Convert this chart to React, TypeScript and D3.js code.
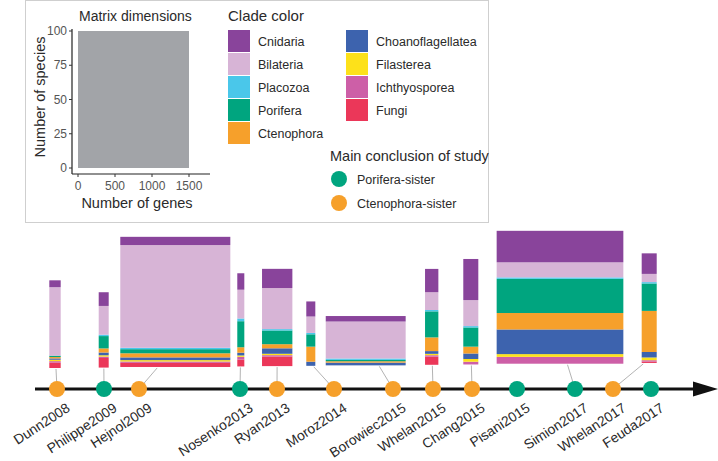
import * as d3 from "d3";

// clades, legend order (top of stack first)
const clades = ["Cnidaria", "Bilateria", "Placozoa", "Porifera", "Ctenophora", "Choanoflagellatea", "Filasterea", "Ichthyosporea", "Fungi"];
const cladeColors = ["#89449b", "#d7b4d6", "#4ac7ea", "#00a57f", "#f6a02b", "#3d63ae", "#fde11a", "#cd5fa7", "#eb3759"];

// every study on the timeline
const studies = ["Dunn2008", "Philippe2009", "Hejnol2009", "Nosenko2013", "Ryan2013", "Moroz2014", "Borowiec2015", "Whelan2015", "Chang2015", "Pisani2015", "Simion2017", "Whelan2017", "Feuda2017"];
const conclusions = ["Ctenophora-sister", "Porifera-sister", "Ctenophora-sister", "Porifera-sister", "Ctenophora-sister", "Ctenophora-sister", "Ctenophora-sister", "Ctenophora-sister", "Ctenophora-sister", "Porifera-sister", "Porifera-sister", "Ctenophora-sister", "Porifera-sister"];
const conclusionLevels = ["Porifera-sister", "Ctenophora-sister"];
const conclusionColors = ["#00a57f", "#f6a02b"];

// studies that have a matrix drawn
const matrixStudies = ["Dunn2008", "Philippe2009", "Hejnol2009", "Nosenko2013", "Ryan2013", "Moroz2014", "Borowiec2015", "Whelan2015", "Chang2015", "Simion2017", "Whelan2017"];
const genes = [154, 135, 1487, 95, 410, 122, 1080, 180, 203, 1712, 203];
// species per clade, one value per matrix study
const cnidaria = [5, 10, 6, 12, 14, 11, 4, 17, 30, 23, 15];
const bilateria = [50, 21, 75, 21, 30, 12, 27, 13, 19, 11, 6];
const placozoa = [0, 1, 1, 2, 1, 1, 1, 1, 1, 1, 1];
const porifera = [1, 9, 3, 19, 10, 9, 1, 19, 14, 25, 20];
const ctenophora = [1, 3, 3, 4, 3, 11, 1, 10, 5, 12, 30];
const choanoflagellatea = [1, 2, 2, 2, 4, 3, 2, 2, 4, 18, 4];
const filasterea = [1, 1, 1, 1, 1, 0, 0, 1, 2, 2, 2];
const ichthyosporea = [1, 1, 1, 2, 1, 0, 0, 1, 2, 5, 1];
const fungi = [4, 7, 3, 5, 7, 0, 0, 6, 0, 0, 1];

const xTicks = [0, 500, 1000, 1500];
const yTicks = [0, 25, 50, 75, 100];

const cladeCounts = [cnidaria, bilateria, placozoa, porifera, ctenophora, choanoflagellatea, filasterea, ichthyosporea, fungi];

// layout: where each dot / matrix sits along the timeline (px)
const dotX = [57, 104, 139, 240, 277, 334, 393, 433, 472, 517, 575, 613, 651];
const matrixCx = [55, 103.7, 175.3, 240.8, 277.2, 310.8, 365.7, 431.7, 470.8, 560, 649.2];

const font = "'Liberation Sans', Arial, Helvetica, sans-serif";
const ink = "#2a2a2a";

export default function App() {
  const width = 718;
  const height = 461;

  // one px scale shared by legend and timeline matrices
  const gScale = d3.scaleLinear().domain([0, 1500]).range([0, 111]);
  const sScale = d3.scaleLinear().domain([0, 100]).range([0, 137]);

  const rows = matrixStudies.map((s, i) => {
    const r: any = { study: s, genes: genes[i] };
    clades.forEach((c, j) => (r[c] = cladeCounts[j][i]));
    return r;
  });
  const stacked = d3.stack().keys(clades.slice().reverse())(rows);
  const colorOf = d3.scaleOrdinal<string, string>().domain(clades).range(cladeColors);
  const dotColor = d3.scaleOrdinal<string, string>().domain(conclusionLevels).range(conclusionColors);

  const lineY = 389;
  const baseY = (cx: number) => 368 - (cx - 55) * 0.0085;

  // legend inset scales
  const lx = d3.scaleLinear().domain([0, 1500]).range([78, 189]);
  const ly = d3.scaleLinear().domain([0, 100]).range([168, 31]);

  return (
    <svg width={width} height={height} style={{ position: "absolute", left: 0, top: 0, fontFamily: font }}>
      <rect x={0} y={0} width={width} height={height} fill="#fff" />
      {/* legend box */}
      <rect x={25.5} y={0.5} width={463} height={222} fill="#fff" stroke="#cfcfcf" strokeWidth={1} />
      <text x={79} y={21} fontSize={14} fill={ink}>Matrix dimensions</text>
      <rect x={lx(0)} y={ly(100)} width={lx(1500) - lx(0)} height={ly(0) - ly(100)} fill="#a2a4a8" />
      <line x1={72} x2={72} y1={29} y2={174} stroke="#222" strokeWidth={1.2} />
      <line x1={72} x2={210} y1={174} y2={174} stroke="#222" strokeWidth={1.2} />
      {yTicks.map((t) => (
        <g key={"y" + t}>
          <line x1={69} x2={72} y1={ly(t)} y2={ly(t)} stroke="#333" />
          <text x={67} y={ly(t) + 4.2} fontSize={12} fill="#555" textAnchor="end">{t}</text>
        </g>
      ))}
      {xTicks.map((t) => (
        <g key={"x" + t}>
          <line x1={lx(t)} x2={lx(t)} y1={174} y2={177} stroke="#333" />
          <text x={lx(t)} y={190} fontSize={12} fill="#555" textAnchor="middle">{t}</text>
        </g>
      ))}
      <text x={137} y={208} fontSize={14.5} fill={ink} textAnchor="middle">Number of genes</text>
      <g transform="translate(45,97) rotate(-90)">
        <text fontSize={14.5} fill={ink} textAnchor="middle">Number of species</text>
      </g>

      <text x={228} y={20.5} fontSize={15} fill={ink}>Clade color</text>
      {clades.map((c, i) => {
        const col = i < 5 ? 0 : 1;
        const row = i < 5 ? i : i - 5;
        const x = col === 0 ? 228 : 346;
        const y = 30 + row * 23;
        return (
          <g key={c}>
            <rect x={x} y={y} width={22} height={22} fill={colorOf(c)} />
            <text x={x + 30} y={y + 15.5} fontSize={12.5} fill={ink}>{c}</text>
          </g>
        );
      })}
      <text x={330} y={161} fontSize={14.5} fill={ink}>Main conclusion of study</text>
      {conclusionLevels.map((c, i) => (
        <g key={c}>
          <circle cx={339} cy={179 + i * 24} r={8} fill={dotColor(c)} />
          <text x={357} y={183.5 + i * 24} fontSize={12.5} fill={ink}>{c}</text>
        </g>
      ))}

      {/* matrices */}
      {stacked.map((layer) => (
        <g key={layer.key} fill={colorOf(layer.key)}>
          {layer.map((d, i) => {
            const w = gScale(genes[i]);
            const b = baseY(matrixCx[i]);
            const y0 = b - sScale(d[0]);
            const y1 = b - sScale(d[1]);
            if (y0 - y1 <= 0) return null;
            return <rect key={i} x={matrixCx[i] - w / 2} y={y1} width={w} height={y0 - y1} />;
          })}
        </g>
      ))}

      {/* leader segments */}
      {matrixStudies.map((s, i) => {
        const k = studies.indexOf(s);
        const cx = dotX[k];
        const w = gScale(genes[i]);
        const lo = matrixCx[i] - w / 2 + 1.5;
        const hi = matrixCx[i] + w / 2 - 1.5;
        const ex = Math.max(lo, Math.min(hi, matrixCx[i] + (cx - matrixCx[i]) * 0.5));
        return <line key={s} x1={ex} y1={baseY(matrixCx[i]) + 1} x2={cx} y2={lineY} stroke="#a0a0a0" strokeWidth={0.8} />;
      })}

      {/* timeline */}
      <line x1={35} x2={696} y1={lineY} y2={lineY} stroke="#111" strokeWidth={3} />
      <path d={`M693,${lineY - 7.5}L718,${lineY}L693,${lineY + 7.5}Z`} fill="#111" />
      {studies.map((s, i) => (
        <circle key={s} cx={dotX[i]} cy={lineY} r={8} fill={dotColor(conclusions[i])} />
      ))}
      {studies.map((s, i) => (
        <g key={s} transform={`translate(${dotX[i] + 8.5},402) rotate(-33)`}>
          <text y={10} fontSize={13.8} fill={ink} textAnchor="end">{s}</text>
        </g>
      ))}
    </svg>
  );
}
